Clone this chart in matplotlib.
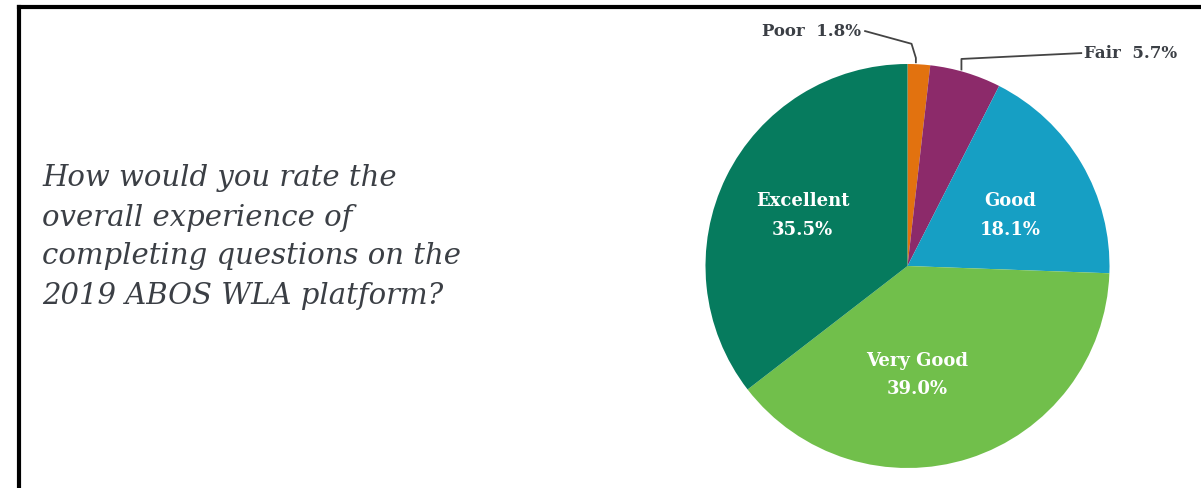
import numpy as np
import matplotlib.pyplot as plt
from matplotlib.lines import Line2D

# Daten aus dem Bild
categories = ["Poor", "Fair", "Good", "Very Good", "Excellent"]
shares = [1.8, 5.7, 18.1, 39.0, 35.5]
colors = ["#e2720f", "#8c2a6a", "#169fc4", "#71bf4b", "#067b5e"]
question = ("How would you rate the\noverall experience of\n"
            "completing questions on the\n2019 ABOS WLA platform?")

fig = plt.figure(figsize=(12.01, 4.88), dpi=100)

# Rahmen oben und links
fig.add_artist(Line2D([19 / 1201, 1], [1 - 7 / 488, 1 - 7 / 488],
                      color="black", lw=3, transform=fig.transFigure))
fig.add_artist(Line2D([19 / 1201, 19 / 1201], [0, 1 - 7 / 488],
                      color="black", lw=3, transform=fig.transFigure))

fig.text(42 / 1201, 1 - 237 / 488, question, ha="left", va="center",
         fontsize=21, style="italic", family="DejaVu Serif",
         color="#3b3f45", linespacing=1.5)

ax = fig.add_axes([705 / 1201, 20 / 488, 405 / 1201, 404 / 488])
wedges, _ = ax.pie(shares, colors=colors, startangle=90, counterclock=False,
                   radius=1.0, wedgeprops=dict(linewidth=0))
ax.set_xlim(-1, 1)
ax.set_ylim(-1, 1)
ax.set_aspect("equal")
ax.axis("off")

# Beschriftungen in den großen Segmenten
inner = {"Good": (0.51, 0.25), "Very Good": (0.05, -0.54), "Excellent": (-0.52, 0.25)}
for name, val in zip(categories, shares):
    if name in inner:
        x, y = inner[name]
        ax.text(x, y, f"{name}\n{val:.1f}%", ha="center", va="center",
                color="white", fontsize=13, fontweight="bold",
                family="DejaVu Serif", linespacing=1.75)

# Beschriftungen mit Führungslinien für kleine Segmente
def mid_point(w, r=1.0):
    ang = np.deg2rad((w.theta1 + w.theta2) / 2)
    return r * np.cos(ang), r * np.sin(ang)

px, py = mid_point(wedges[0])
ax.plot([-0.21, 0.02, px - 0.015, px - 0.015], [1.163, 1.10, 1.03, py + 0.01],
        color="#444444", lw=1.3, clip_on=False)
ax.text(-0.23, 1.163, f"{categories[0]}  {shares[0]}%", ha="right", va="center",
        fontsize=12, fontweight="bold", family="DejaVu Serif", color="#3b3f45")

fx, fy = mid_point(wedges[1])
ax.plot([0.86, 0.267, 0.267], [1.054, 1.025, fy + 0.015],
        color="#444444", lw=1.3, clip_on=False)
ax.text(0.875, 1.054, f"{categories[1]}  {shares[1]}%", ha="left", va="center",
        fontsize=12, fontweight="bold", family="DejaVu Serif", color="#3b3f45")

fig.savefig("out.png", dpi=100, facecolor="white")
